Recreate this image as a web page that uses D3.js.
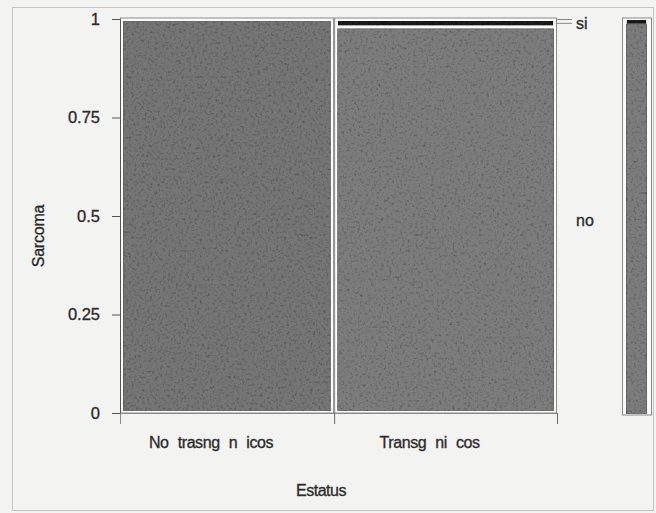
<!DOCTYPE html>
<html>
<head>
<meta charset="utf-8">
<script src="https://cdn.jsdelivr.net/npm/d3@7"></script>
<style>
  body { margin: 0; background: #f3f3f1; }
  text { font-family: "Liberation Sans", Arial, sans-serif; fill: #262626; stroke: #3a3a3a; stroke-width: 0.35px; }
</style>
</head>
<body>
<div id="chart"></div>
<script>
// Data
const groups = ['No trasng n icos', 'Transg ni cos'];
const levels = ['no', 'si'];
const countsNo = [49, 50];
const countsSi = [0, 1];
const yTicks = [0, 0.25, 0.5, 0.75, 1];

const width = 656;
const height = 513;

const svg = d3.select('#chart')
  .append('svg')
  .attr('width', width)
  .attr('height', height);

// grain filter so the fills look like the scanned print
const defs = svg.append('defs');
const f = defs.append('filter').attr('id', 'grain')
  .attr('x', 0).attr('y', 0).attr('width', '100%').attr('height', '100%');
f.append('feTurbulence').attr('type', 'fractalNoise')
  .attr('baseFrequency', 0.38).attr('numOctaves', 3).attr('seed', 4).attr('result', 'noise');
f.append('feColorMatrix').attr('in', 'noise').attr('type', 'saturate').attr('values', 0).attr('result', 'gray');
const ct = f.append('feComponentTransfer').attr('in', 'gray').attr('result', 'g2');
['feFuncR', 'feFuncG', 'feFuncB'].forEach(n => ct.append(n).attr('type', 'linear').attr('slope', 1.6).attr('intercept', 0.2));
ct.append('feFuncA').attr('type', 'linear').attr('slope', 0).attr('intercept', 1);
f.append('feBlend').attr('in', 'SourceGraphic').attr('in2', 'g2').attr('mode', 'multiply').attr('result', 'b');
f.append('feComposite').attr('in', 'b').attr('in2', 'SourceGraphic').attr('operator', 'in');

// outer frame of the figure
svg.append('rect')
  .attr('x', 12.5).attr('y', 7.5)
  .attr('width', 641).attr('height', 503)
  .attr('fill', 'none')
  .attr('stroke', '#c4c4c2');

// table of groups built from the arrays
const totals = countsNo.map((d, i) => d + countsSi[i]);
const grand = d3.sum(totals);
let cum = 0;
const table = groups.map((g, i) => {
  const x0 = cum;
  cum += totals[i] / grand;
  const pNo = countsNo[i] / totals[i];
  return { group: g, x0: x0, x1: cum, pNo: pNo };
});

// scales
const xScale = d3.scaleLinear().domain([0, 1]).range([120, 557]);
const yScale = d3.scaleLinear().domain([0, 1]).range([413, 19]);

const fillNo = ['#747474', '#7c7c7c'];
const fillSi = '#1a1a1a';

// bar outlines
svg.selectAll('.bar-out')
  .data(table)
  .enter()
  .append('rect')
  .attr('class', 'bar-out')
  .attr('x', d => xScale(d.x0) + 0.5)
  .attr('y', yScale(1) - 1)
  .attr('width', d => xScale(d.x1) - xScale(d.x0) - 1)
  .attr('height', yScale(0) - yScale(1) + 1)
  .attr('fill', '#fafafa')
  .attr('stroke', '#8a8a8a');

// segments
const segs = [];
table.forEach((d, i) => {
  segs.push({ x0: d.x0, x1: d.x1, y0: 0, y1: d.pNo, lev: 'no', g: i });
  if (d.pNo < 1) segs.push({ x0: d.x0, x1: d.x1, y0: d.pNo, y1: 1, lev: 'si', g: i });
});

svg.selectAll('.seg')
  .data(segs)
  .enter()
  .append('rect')
  .attr('class', 'seg')
  .attr('x', d => xScale(d.x0) + 3.5)
  .attr('y', d => yScale(d.y1) + (d.lev === 'si' ? 2 : 2))
  .attr('width', d => xScale(d.x1) - xScale(d.x0) - 7)
  .attr('height', d => Math.max(1, yScale(d.y0) - yScale(d.y1) - (d.lev === 'si' ? 3 : 4)))
  .attr('fill', d => d.lev === 'no' ? fillNo[d.g] : fillSi)
  .attr('stroke', d => d.lev === 'no' ? '#666' : 'none')
  .attr('filter', 'url(#grain)');

// overall bar on the right
const pNoAll = d3.sum(countsNo) / grand;
const rx0 = 622, rx1 = 652;
svg.append('rect')
  .attr('x', rx0 + 0.5).attr('y', yScale(1) - 1)
  .attr('width', rx1 - rx0 - 1).attr('height', yScale(0) - yScale(1) + 3)
  .attr('fill', '#fafafa').attr('stroke', '#8a8a8a');
svg.selectAll('.seg-all')
  .data([{ y0: 0, y1: pNoAll, lev: 'no' }, { y0: pNoAll, y1: 1, lev: 'si' }])
  .enter()
  .append('rect')
  .attr('class', 'seg-all')
  .attr('x', rx0 + 4.5)
  .attr('y', d => yScale(d.y1) + 1)
  .attr('width', rx1 - rx0 - 10)
  .attr('height', d => Math.max(3, yScale(d.y0) - yScale(d.y1)))
  .attr('fill', d => d.lev === 'no' ? fillNo[1] : fillSi)
  .attr('stroke', d => d.lev === 'no' ? '#666' : 'none')
  .attr('filter', 'url(#grain)');

// y axis
const yAxis = svg.append('g')
  .attr('transform', 'translate(120,0)')
  .call(d3.axisLeft(yScale)
    .tickValues(yTicks)
    .tickSize(8)
    .tickPadding(12)
    .tickFormat(d => d3.format('')(d)));
yAxis.select('.domain').attr('stroke', '#555');
yAxis.selectAll('line').attr('stroke', '#555');
yAxis.selectAll('text').style('font-size', '16.5px').attr('fill', '#262626');

// x axis: ticks at the group edges
const xAxis = svg.append('g')
  .attr('transform', 'translate(0,413)')
  .call(d3.axisBottom(xScale)
    .tickValues(table.map(d => d.x1))
    .tickSize(11)
    .tickFormat(''));
xAxis.select('.domain').attr('stroke', '#8a8a8a');
xAxis.selectAll('line').attr('stroke', '#666');

// group labels
svg.selectAll('.glabel')
  .data(table)
  .enter()
  .append('text')
  .attr('class', 'glabel')
  .attr('x', d => xScale((d.x0 + d.x1) / 2) - 16)
  .attr('y', 448)
  .attr('text-anchor', 'middle')
  .style('font-size', '16px')
  .style('letter-spacing', '-0.4px')
  .style('word-spacing', '5px')
  .text(d => d.group);

// right axis with level labels
const last = table[table.length - 1];
const mids = [(last.pNo) / 2, (last.pNo + 1) / 2];
const rAxis = svg.append('g')
  .attr('transform', 'translate(557,0)')
  .call(d3.axisRight(yScale).tickValues([1, mids[1]]).tickSize(15).tickFormat(''));
rAxis.select('.domain').remove();
rAxis.selectAll('line').attr('stroke', '#8a8a8a');
svg.selectAll('.llabel')
  .data(levels)
  .enter()
  .append('text')
  .attr('class', 'llabel')
  .attr('x', 576)
  .attr('y', (d, i) => yScale(mids[i]) + 6)
  .style('font-size', '16px')
  .text(d => d);

// axis titles
svg.append('text')
  .attr('x', 321).attr('y', 496)
  .attr('text-anchor', 'middle')
  .style('font-size', '16px')
  .style('letter-spacing', '-0.5px')
  .text('Estatus');
svg.append('text')
  .attr('transform', 'translate(44,236) rotate(-90)')
  .attr('text-anchor', 'middle')
  .style('font-size', '16px')
  .style('letter-spacing', '-0.2px')
  .text('Sarcoma');
</script>
</body>
</html>
